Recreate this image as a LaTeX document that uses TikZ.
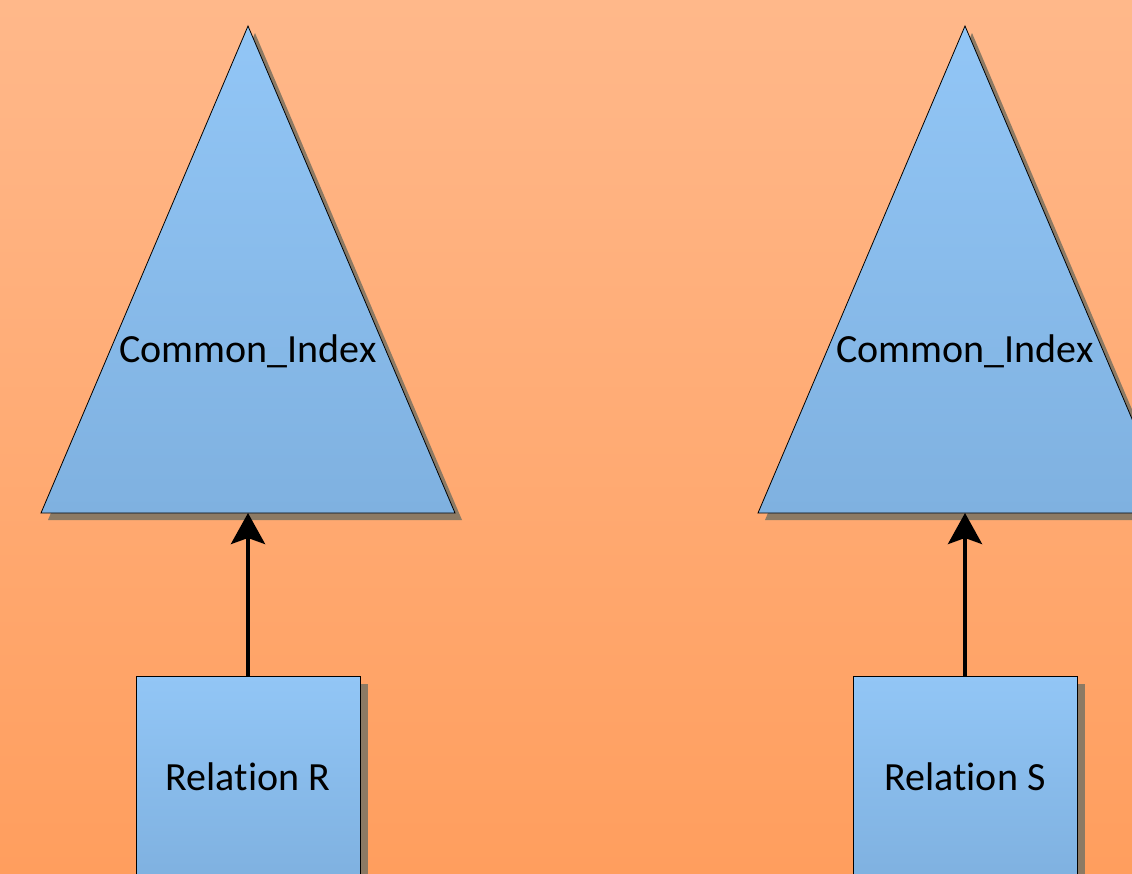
\documentclass[tikz,border=0pt]{standalone}
\usepackage{fontspec}
\setmainfont[Ligatures={NoCommon}]{Carlito}
\usetikzlibrary{arrows.meta}
\definecolor{bgtop}{RGB}{255,184,138}
\definecolor{bgbot}{RGB}{255,158,94}
\definecolor{bltop}{RGB}{146,198,246}
\definecolor{blbot}{RGB}{127,177,224}
\definecolor{shad}{RGB}{140,122,100}
\tikzset{
  shape shadow/.style={fill=shad},
  blueshape/.style={draw=black, line width=0.8pt, top color=bltop, bottom color=blbot},
  relbox/.style={blueshape, rectangle, minimum width=224pt, minimum height=202pt, inner sep=0pt, font=\fontsize{40}{48}\selectfont},
  trilabel/.style={inner sep=0pt, font=\fontsize{40}{48}\selectfont},
  link/.style={line width=4pt, -{Stealth[length=31pt,width=34pt,inset=6pt]}}
}
\begin{document}
\begin{tikzpicture}[x=1pt,y=-1pt]
\useasboundingbox (0,0) rectangle (1132,873);
\clip (0,0) rectangle (1132,873);
\fill[top color=bgtop, bottom color=bgbot] (0,0) rectangle (1132,873);
% shadows
\fill[shape shadow] (255,33) -- (462,520) -- (48,520) -- cycle;
\fill[shape shadow] (972,33) -- (1179,520) -- (765,520) -- cycle;
\fill[shape shadow] (144,684) rectangle (368,886);
\fill[shape shadow] (861,684) rectangle (1085,886);
% triangles
\path[blueshape] (248,26) -- (455,513) -- (41,513) -- cycle;
\path[blueshape] (965,26) -- (1172,513) -- (758,513) -- cycle;
\node[trilabel] (idxR) at (248,351) {Common\_Index};
\node[trilabel] (idxS) at (965,351) {Common\_Index};
\coordinate (baseR) at (248,513);
\coordinate (baseS) at (965,513);
% relations
\node[relbox] (relR) at (248,777) {Relation R};
\node[relbox] (relS) at (965,777) {Relation S};
% arrows
\draw[link] (relR.north) -- (baseR);
\draw[link] (relS.north) -- (baseS);
\end{tikzpicture}
\end{document}
